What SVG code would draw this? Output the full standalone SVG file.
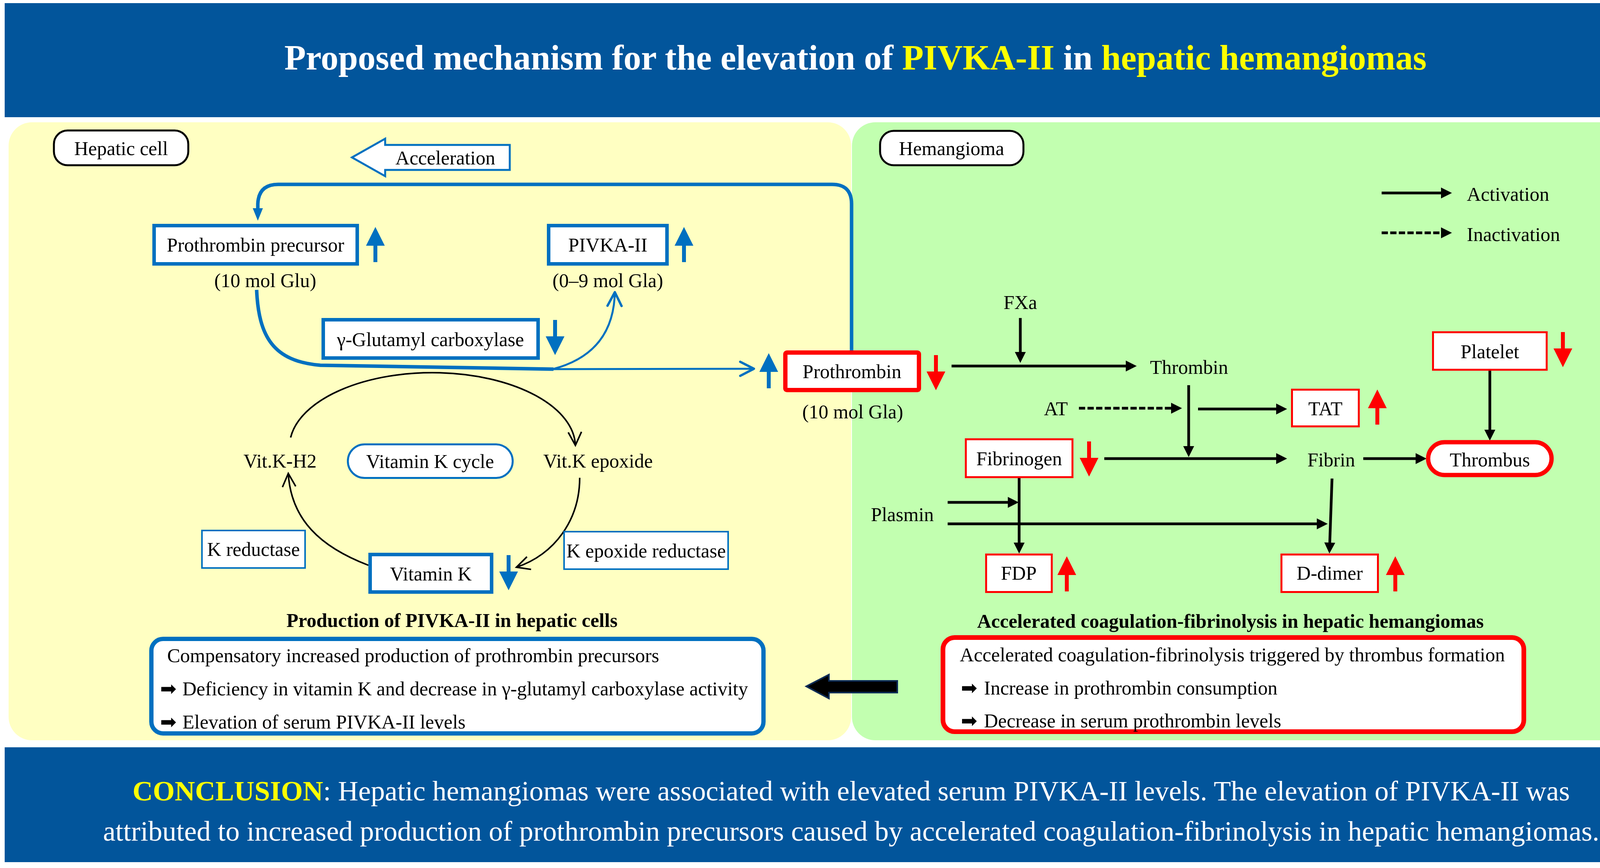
<svg xmlns="http://www.w3.org/2000/svg" width="4358" height="2222" viewBox="0 0 4358 2222">
<style>
text{font-family:"Liberation Serif","Times New Roman",serif;font-size:50px;fill:#000}
.m{text-anchor:middle}
.b{font-weight:bold}
.bn{fill:#fff;stroke:#0070C0;stroke-width:9}
.bt{fill:#fff;stroke:#0070C0;stroke-width:4}
.rn{fill:#fff;stroke:#FF0000;stroke-width:5}
.rt{fill:#fff;stroke:#FF0000;stroke-width:11}
.lb{fill:#fff;stroke:#000;stroke-width:5}
.ln{fill:none;stroke:#000;stroke-width:7}
.bl{fill:none;stroke:#0070C0}
.ba{fill:#0070C0}
.ra{fill:#FF0000}
.ban{fill:#02559B}
.w{fill:#fff}
.y{fill:#FFFF00}
.ar{font-family:"DejaVu Sans",sans-serif;font-size:50px}
</style>
<defs>
<marker id="ah" markerUnits="userSpaceOnUse" markerWidth="30" markerHeight="30" refX="6" refY="15" orient="auto" overflow="visible"><path d="M0,1 L28,15 L0,29 Z" fill="#000"/></marker>
<marker id="ob" markerUnits="userSpaceOnUse" markerWidth="44" markerHeight="44" refX="38" refY="20" orient="auto" overflow="visible"><path d="M3,2 L38,20 L3,38" fill="none" stroke="#0070C0" stroke-width="6" stroke-linecap="round" stroke-linejoin="round"/></marker>
<marker id="ok" markerUnits="userSpaceOnUse" markerWidth="40" markerHeight="40" refX="34" refY="17" orient="auto" overflow="visible"><path d="M0,0 L34,17 L0,34" fill="none" stroke="#000" stroke-width="4"/></marker>
<path id="up" d="M0,0 L24,48 L5,48 L5,90 L-5,90 L-5,48 L-24,48 Z"/>
</defs>

<rect width="4358" height="2222" fill="#fff"/>

<g id="title-banner">
<rect class="ban" x="12" y="8" width="4334" height="292"/>
<text class="m b" x="2190" y="178" style="font-size:90px"><tspan class="w">Proposed mechanism for the elevation of </tspan><tspan class="y">PIVKA-II</tspan><tspan class="w"> in </tspan><tspan class="y">hepatic hemangiomas</tspan></text>
</g>

<g id="panel-hepatic">
<rect x="22" y="313" width="2157" height="1582" rx="60" fill="#FFFFC2"/>
</g>
<g id="panel-hemangioma">
<rect x="2181" y="313" width="2155" height="1582" rx="60" fill="#C2FFB0"/>
</g>

<g id="conclusion-banner">
<rect class="ban" x="12" y="1913" width="4334" height="294"/>
<text class="m" x="2179" y="2049" style="font-size:72px"><tspan class="y b">CONCLUSION</tspan><tspan class="w">: Hepatic hemangiomas were associated with elevated serum PIVKA-II levels. The elevation of PIVKA-II was</tspan></text>
<text class="m" x="2179" y="2152" style="font-size:72px"><tspan class="w">attributed to increased production of prothrombin precursors caused by accelerated coagulation-fibrinolysis in hepatic hemangiomas.</tspan></text>
</g>

<g id="connectors">
<path class="bl" stroke-width="9" d="M2180,897 L2180,522 Q2180,472 2130,472 L712,472 Q662,472 660,522 L660,540"/>
<polygon class="ba" points="647,533 673,533 660,565"/>
<path class="bl" stroke-width="9" d="M657,742 C662,862 700,925 820,935 L1417,945"/>
<path class="bl" stroke-width="5" d="M1415,945 L1930,944" marker-end="url(#ob)"/>
<path class="bl" stroke-width="5" d="M1415,945 C1530,915 1572,840 1574,748" marker-end="url(#ob)"/>
<path fill="none" stroke="#000" stroke-width="4" d="M744,1120 A366,190 0 0 1 1473,1140" marker-end="url(#ok)"/>
<path fill="none" stroke="#000" stroke-width="4" d="M943,1447 C820,1400 745,1330 738,1212" marker-end="url(#ok)"/>
<path fill="none" stroke="#000" stroke-width="4" d="M1484,1223 C1484,1330 1420,1420 1322,1452" marker-end="url(#ok)"/>
<path class="ln" d="M2436,937 H2888" marker-end="url(#ah)"/>
<path class="ln" d="M2612,814 V907" marker-end="url(#ah)"/>
<path class="ln" stroke-width="6" stroke-dasharray="16,6" d="M2762,1045 H3004" marker-end="url(#ah)"/>
<path class="ln" d="M3067,1047 H3273" marker-end="url(#ah)"/>
<path class="ln" stroke-width="6" d="M3043,986 V1148" marker-end="url(#ah)"/>
<path class="ln" d="M2827,1174 H3273" marker-end="url(#ah)"/>
<path class="ln" d="M3490,1174 H3630" marker-end="url(#ah)"/>
<path class="ln" stroke-width="6" d="M3814,949 V1106" marker-end="url(#ah)"/>
<path class="ln" stroke-width="3" d="M2609,1224 V1395" marker-end="url(#ah)"/>
<path class="ln" stroke-width="11" d="M2426,1286 H2586" marker-end="url(#ah)"/>
<path class="ln" stroke-width="11" d="M2426,1341 H3377" marker-end="url(#ah)"/>
<path class="ln" stroke-width="3" d="M3410,1225 L3404,1395" marker-end="url(#ah)"/>
<polygon points="2064,1757 2122,1727 2122,1743 2297,1743 2297,1773 2122,1773 2122,1788" fill="#000" stroke="#0D2B55" stroke-width="4" stroke-linejoin="miter"/>
</g>

<g id="legend">
<path class="ln" stroke-width="12" d="M3537,494 H3695" marker-end="url(#ah)"/>
<text x="3755" y="514">Activation</text>
<path class="ln" stroke-width="8" stroke-dasharray="16,6" d="M3537,596 H3695" marker-end="url(#ah)"/>
<text x="3755" y="617">Inactivation</text>
</g>

<g id="label-hepatic-cell">
<rect class="lb" x="138" y="334" width="344" height="89" rx="35"/>
<text class="m" x="310" y="397">Hepatic cell</text>
</g>

<g id="acceleration">
<polygon points="901,403 986,355 986,371 1305,371 1305,435 986,435 986,451" fill="#fff" stroke="#0070C0" stroke-width="5"/>
<text class="m" x="1140" y="421">Acceleration</text>
</g>

<g id="node-prothrombin-precursor">
<rect class="bn" x="394.5" y="577.5" width="520" height="98"/>
<text class="m" x="654" y="644">Prothrombin precursor</text>
<use href="#up" x="961" y="581" class="ba"/>
<text class="m" x="679" y="735">(10 mol Glu)</text>
</g>

<g id="node-pivka">
<rect class="bn" x="1404.5" y="577.5" width="303" height="98"/>
<text class="m" x="1556" y="644">PIVKA-II</text>
<use href="#up" x="1751" y="581" class="ba"/>
<text class="m" x="1556" y="735">(0–9 mol Gla)</text>
</g>

<g id="node-carboxylase">
<rect class="bn" x="827.5" y="818.5" width="550" height="98"/>
<text class="m" x="1102" y="886">γ-Glutamyl carboxylase</text>
<use href="#up" transform="translate(1421,909) rotate(180)" class="ba"/>
</g>

<g id="node-prothrombin">
<use href="#up" x="1968" y="904" class="ba"/>
<rect class="rt" x="2010.5" y="902.5" width="342" height="96" rx="4"/>
<text class="m" x="2181" y="968">Prothrombin</text>
<use href="#up" transform="translate(2396,999) rotate(180)" class="ra"/>
<text class="m" x="2183" y="1071">(10 mol Gla)</text>
</g>

<g id="node-vitk-h2">
<text class="m" x="717" y="1197">Vit.K-H2</text>
</g>
<g id="node-vitk-cycle">
<rect x="890.5" y="1137.5" width="422" height="86" rx="43" fill="#fff" stroke="#0070C0" stroke-width="5"/>
<text class="m" x="1101" y="1198">Vitamin K cycle</text>
</g>
<g id="node-vitk-epoxide">
<text class="m" x="1531" y="1197">Vit.K epoxide</text>
</g>
<g id="node-k-reductase">
<rect class="bt" x="517" y="1358" width="264" height="96"/>
<text class="m" x="649" y="1423">K reductase</text>
</g>
<g id="node-k-epoxide-reductase">
<rect class="bt" x="1444" y="1361" width="420" height="96"/>
<text class="m" x="1654" y="1427">K epoxide reductase</text>
</g>
<g id="node-vitamin-k">
<rect class="bn" x="947.5" y="1419.5" width="311" height="96"/>
<text class="m" x="1103" y="1486">Vitamin K</text>
<use href="#up" transform="translate(1302,1511) rotate(180)" class="ba"/>
</g>

<g id="summary-hepatic">
<text class="m b" x="1157" y="1605">Production of PIVKA-II in hepatic cells</text>
<rect x="387.5" y="1635.5" width="1567" height="242" rx="30" fill="#fff" stroke="#0070C0" stroke-width="11"/>
<text x="428" y="1695">Compensatory increased production of prothrombin precursors</text>
<text y="1780"><tspan class="ar" x="410">➡</tspan><tspan x="467">Deficiency in vitamin K and decrease in γ-glutamyl carboxylase activity</tspan></text>
<text y="1865"><tspan class="ar" x="410">➡</tspan><tspan x="467">Elevation of serum PIVKA-II levels</tspan></text>
</g>

<g id="label-hemangioma">
<rect class="lb" x="2253" y="335" width="367" height="88" rx="35"/>
<text class="m" x="2436" y="397">Hemangioma</text>
</g>

<g id="node-fxa"><text class="m" x="2612" y="791">FXa</text></g>
<g id="node-thrombin"><text class="m" x="3044" y="957">Thrombin</text></g>
<g id="node-at"><text class="m" x="2703" y="1063">AT</text></g>
<g id="node-tat">
<rect class="rn" x="3307.5" y="997.5" width="171" height="94"/>
<text class="m" x="3393" y="1063">TAT</text>
<use href="#up" x="3526" y="997" class="ra"/>
</g>
<g id="node-platelet">
<rect class="rn" x="3668.5" y="850.5" width="291" height="96"/>
<text class="m" x="3814" y="917">Platelet</text>
<use href="#up" transform="translate(4001,940) rotate(180)" class="ra"/>
</g>
<g id="node-fibrinogen">
<rect class="rn" x="2472.5" y="1124.5" width="273" height="97"/>
<text class="m" x="2609" y="1191">Fibrinogen</text>
<use href="#up" transform="translate(2788,1220) rotate(180)" class="ra"/>
</g>
<g id="node-fibrin"><text class="m" x="3408" y="1194">Fibrin</text></g>
<g id="node-thrombus">
<rect class="rt" x="3656" y="1132" width="316" height="84" rx="42"/>
<text class="m" x="3814" y="1194">Thrombus</text>
</g>
<g id="node-plasmin"><text class="m" x="2310" y="1334">Plasmin</text></g>
<g id="node-fdp">
<rect class="rn" x="2524.5" y="1419.5" width="168" height="96"/>
<text class="m" x="2608" y="1484">FDP</text>
<use href="#up" x="2731" y="1424" class="ra"/>
</g>
<g id="node-ddimer">
<rect class="rn" x="3280.5" y="1419.5" width="247" height="96"/>
<text class="m" x="3404" y="1484">D-dimer</text>
<use href="#up" x="3572" y="1424" class="ra"/>
</g>

<g id="summary-hemangioma">
<text class="m b" x="3150" y="1607">Accelerated coagulation-fibrinolysis in hepatic hemangiomas</text>
<rect x="2414" y="1632" width="1487" height="241" rx="30" fill="#fff" stroke="#FF0000" stroke-width="12"/>
<text x="2457" y="1693">Accelerated coagulation-fibrinolysis triggered by thrombus formation</text>
<text y="1778"><tspan class="ar" x="2460">➡</tspan><tspan x="2519">Increase in prothrombin consumption</tspan></text>
<text y="1862"><tspan class="ar" x="2460">➡</tspan><tspan x="2519">Decrease in serum prothrombin levels</tspan></text>
</g>
</svg>
